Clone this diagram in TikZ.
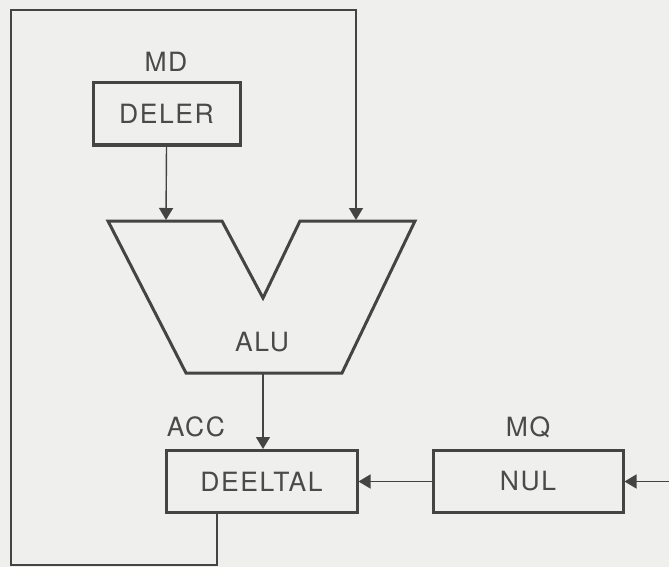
\documentclass[tikz,border=0pt]{standalone}
\usepackage{fontspec}
\setmainfont[LetterSpace=6]{TeX Gyre Heros}
\usetikzlibrary{arrows.meta}
\definecolor{paper}{HTML}{EFEFED}
\definecolor{ink}{HTML}{444444}
\definecolor{txt}{HTML}{4A4A4A}
\tikzset{
  unit/.style={draw=ink, line width=3pt, inner sep=0pt, minimum height=62pt,
    text=txt, font=\fontsize{26.5}{30}\selectfont},
  tag/.style={inner sep=0pt, text=txt, font=\fontsize{26.5}{30}\selectfont},
  wire/.style={draw=ink, line width=1.4pt},
  flow/.style={wire, -{Triangle[width=14pt,length=12pt]}},
  alubody/.style={draw=ink, line width=3pt, line join=miter},
}
\begin{document}
\begin{tikzpicture}[x=1pt, y=-1pt]
  \fill[paper] (0,0) rectangle (669,567);
  \useasboundingbox (0,0) rectangle (669,567);

  % registers
  \node[unit, minimum width=147pt] (deler) at (166.5,114) {DELER};
  \node[tag] (md) at (166,62) {MD};
  \node[unit, minimum width=191pt] (deeltal) at (261.5,481.5) {DEELTAL};
  \node[tag] (acc) at (196,427) {ACC};
  \node[unit, minimum width=190pt] (nul) at (528,481.5) {NUL};
  \node[tag] (mq) at (528,427) {MQ};

  % ALU outline with its V-shaped input notch
  \coordinate (a1) at (108,221);
  \coordinate (a2) at (222,221);
  \coordinate (a3) at (263,298);
  \coordinate (a4) at (300,221);
  \coordinate (a5) at (415,221);
  \coordinate (a6) at (342,373);
  \coordinate (a7) at (186,373);
  \draw[alubody] (a1) -- (a2) -- (a3) -- (a4) -- (a5) -- (a6) -- (a7) -- cycle;
  \node[tag] (alu) at (262,342) {ALU};

  % ALU ports
  \coordinate (inA) at (166,220);
  \coordinate (inB) at (356,220);
  \coordinate (out) at (263,374);

  % feedback loop from the accumulator back to the ALU
  \coordinate (l1) at (217,565);
  \coordinate (l2) at (11,565);
  \coordinate (l3) at (11,10);
  \coordinate (l4) at (356,10);
  \draw[flow] (deeltal.south -| l1) -- (l1) -- (l2) -- (l3) -- (l4) -- (inB);

  % data paths
  \draw[flow] (deler.south) -- (inA);
  \draw[flow] (out) -- (deeltal.north -| out);
  \draw[flow] (nul.west) -- (deeltal.east);
  \coordinate (ext) at (669,481.5);
  \draw[flow] (ext) -- (nul.east);
\end{tikzpicture}
\end{document}
